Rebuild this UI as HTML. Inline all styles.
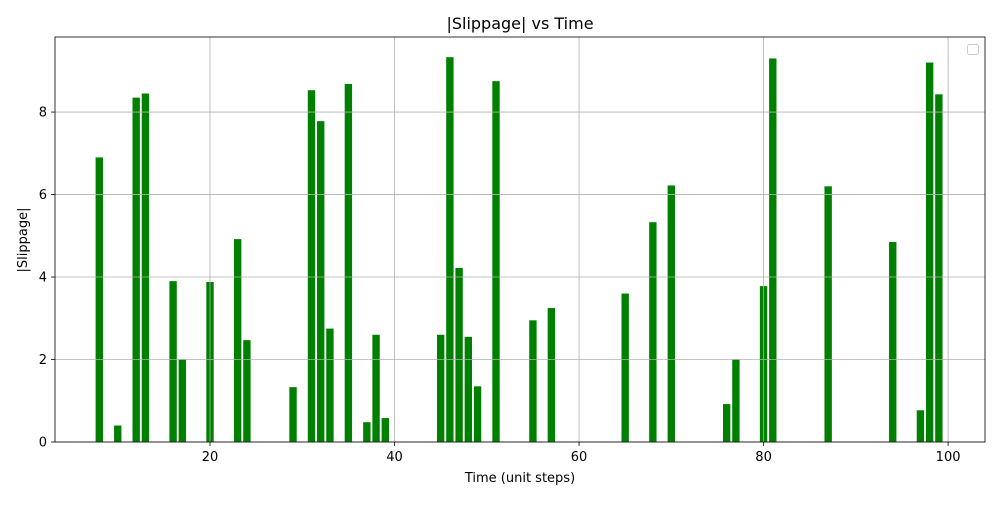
<!DOCTYPE html>
<html><head><meta charset="utf-8"><style>
body{margin:0;background:#fff;font-family:"Liberation Sans","DejaVu Sans",sans-serif}
svg text{font-family:"DejaVu Sans","Liberation Sans",sans-serif;fill:#000}
</style></head><body>
<svg id="c" width="1000" height="500">
<rect width="1000" height="500" fill="#fff"/>
<g id="bars"></g><g id="grid"></g><g id="axes"></g>
<text x="520" y="29" font-size="16" text-anchor="middle">|Slippage| vs Time</text>
<text x="520" y="482" font-size="13" text-anchor="middle">Time (unit steps)</text>
<text x="27" y="240" font-size="13" text-anchor="middle" transform="rotate(-90 27 240)">|Slippage|</text>
<rect x="967.5" y="44.5" width="11" height="10" rx="2" fill="#fff" stroke="#ccc"/>
</svg>
<script>
const times=[8,10,12,13,16,17,20,23,24,29,31,32,33,35,37,38,39,45,46,47,48,49,51,55,57,65,68,70,76,77,80,81,87,94,97,98,99];
const slippage=[6.9,0.4,8.35,8.45,3.9,2.0,3.88,4.92,2.47,1.33,8.53,7.78,2.75,8.68,0.48,2.6,0.58,2.6,9.33,4.22,2.55,1.35,8.75,2.95,3.25,3.6,5.33,6.22,0.92,2.0,3.78,9.3,6.2,4.85,0.77,9.2,8.43];
const xTicks=[20,40,60,80,100];
const yTicks=[0,2,4,6,8];
const L=55,R=985,T=37,B=442,xmin=3.2,xmax=104.0,ymin=0,ymax=9.82;
const NS="http://www.w3.org/2000/svg";
const xs=v=>L+(v-xmin)/(xmax-xmin)*(R-L);
const ys=v=>B-(v-ymin)/(ymax-ymin)*(B-T);
function mk(tag,attrs,parent){const e=document.createElementNS(NS,tag);for(const k in attrs)e.setAttribute(k,attrs[k]);document.getElementById(parent).appendChild(e);return e;}
xTicks.forEach(t=>{const x=xs(t);
 const g=mk('line',{x1:x,x2:x,y1:T,y2:B,stroke:'#b0b0b0','stroke-width':0.8},'grid');
 
 
 mk('line',{x1:x,x2:x,y1:B,y2:B+4,stroke:'#000','stroke-width':0.8},'axes');
 const tx=mk('text',{x:x,y:B+19,'font-size':13,'text-anchor':'middle'},'axes');tx.textContent=t;
 
 
});
yTicks.forEach(t=>{const y=ys(t);
 const g=mk('line',{x1:L,x2:R,y1:y,y2:y,stroke:'#b0b0b0','stroke-width':0.8},'grid');
 
 
 mk('line',{x1:L-4,x2:L,y1:y,y2:y,stroke:'#000','stroke-width':0.8},'axes');
 const tx=mk('text',{x:L-8,y:y+4.5,'font-size':13,'text-anchor':'end'},'axes');tx.textContent=t;
 
 
});
const bw=0.8*(R-L)/(xmax-xmin);
times.forEach((t,i)=>{const y=ys(slippage[i]);
 const b=mk('rect',{x:xs(t)-bw/2,y:y,width:bw,height:B-y,fill:'#008000'},'bars');
 
 
});
const f=mk('rect',{x:L,y:T,width:R-L,height:B-T,fill:'none',stroke:'#000','stroke-width':0.8},'axes');


</script>
</body></html>
